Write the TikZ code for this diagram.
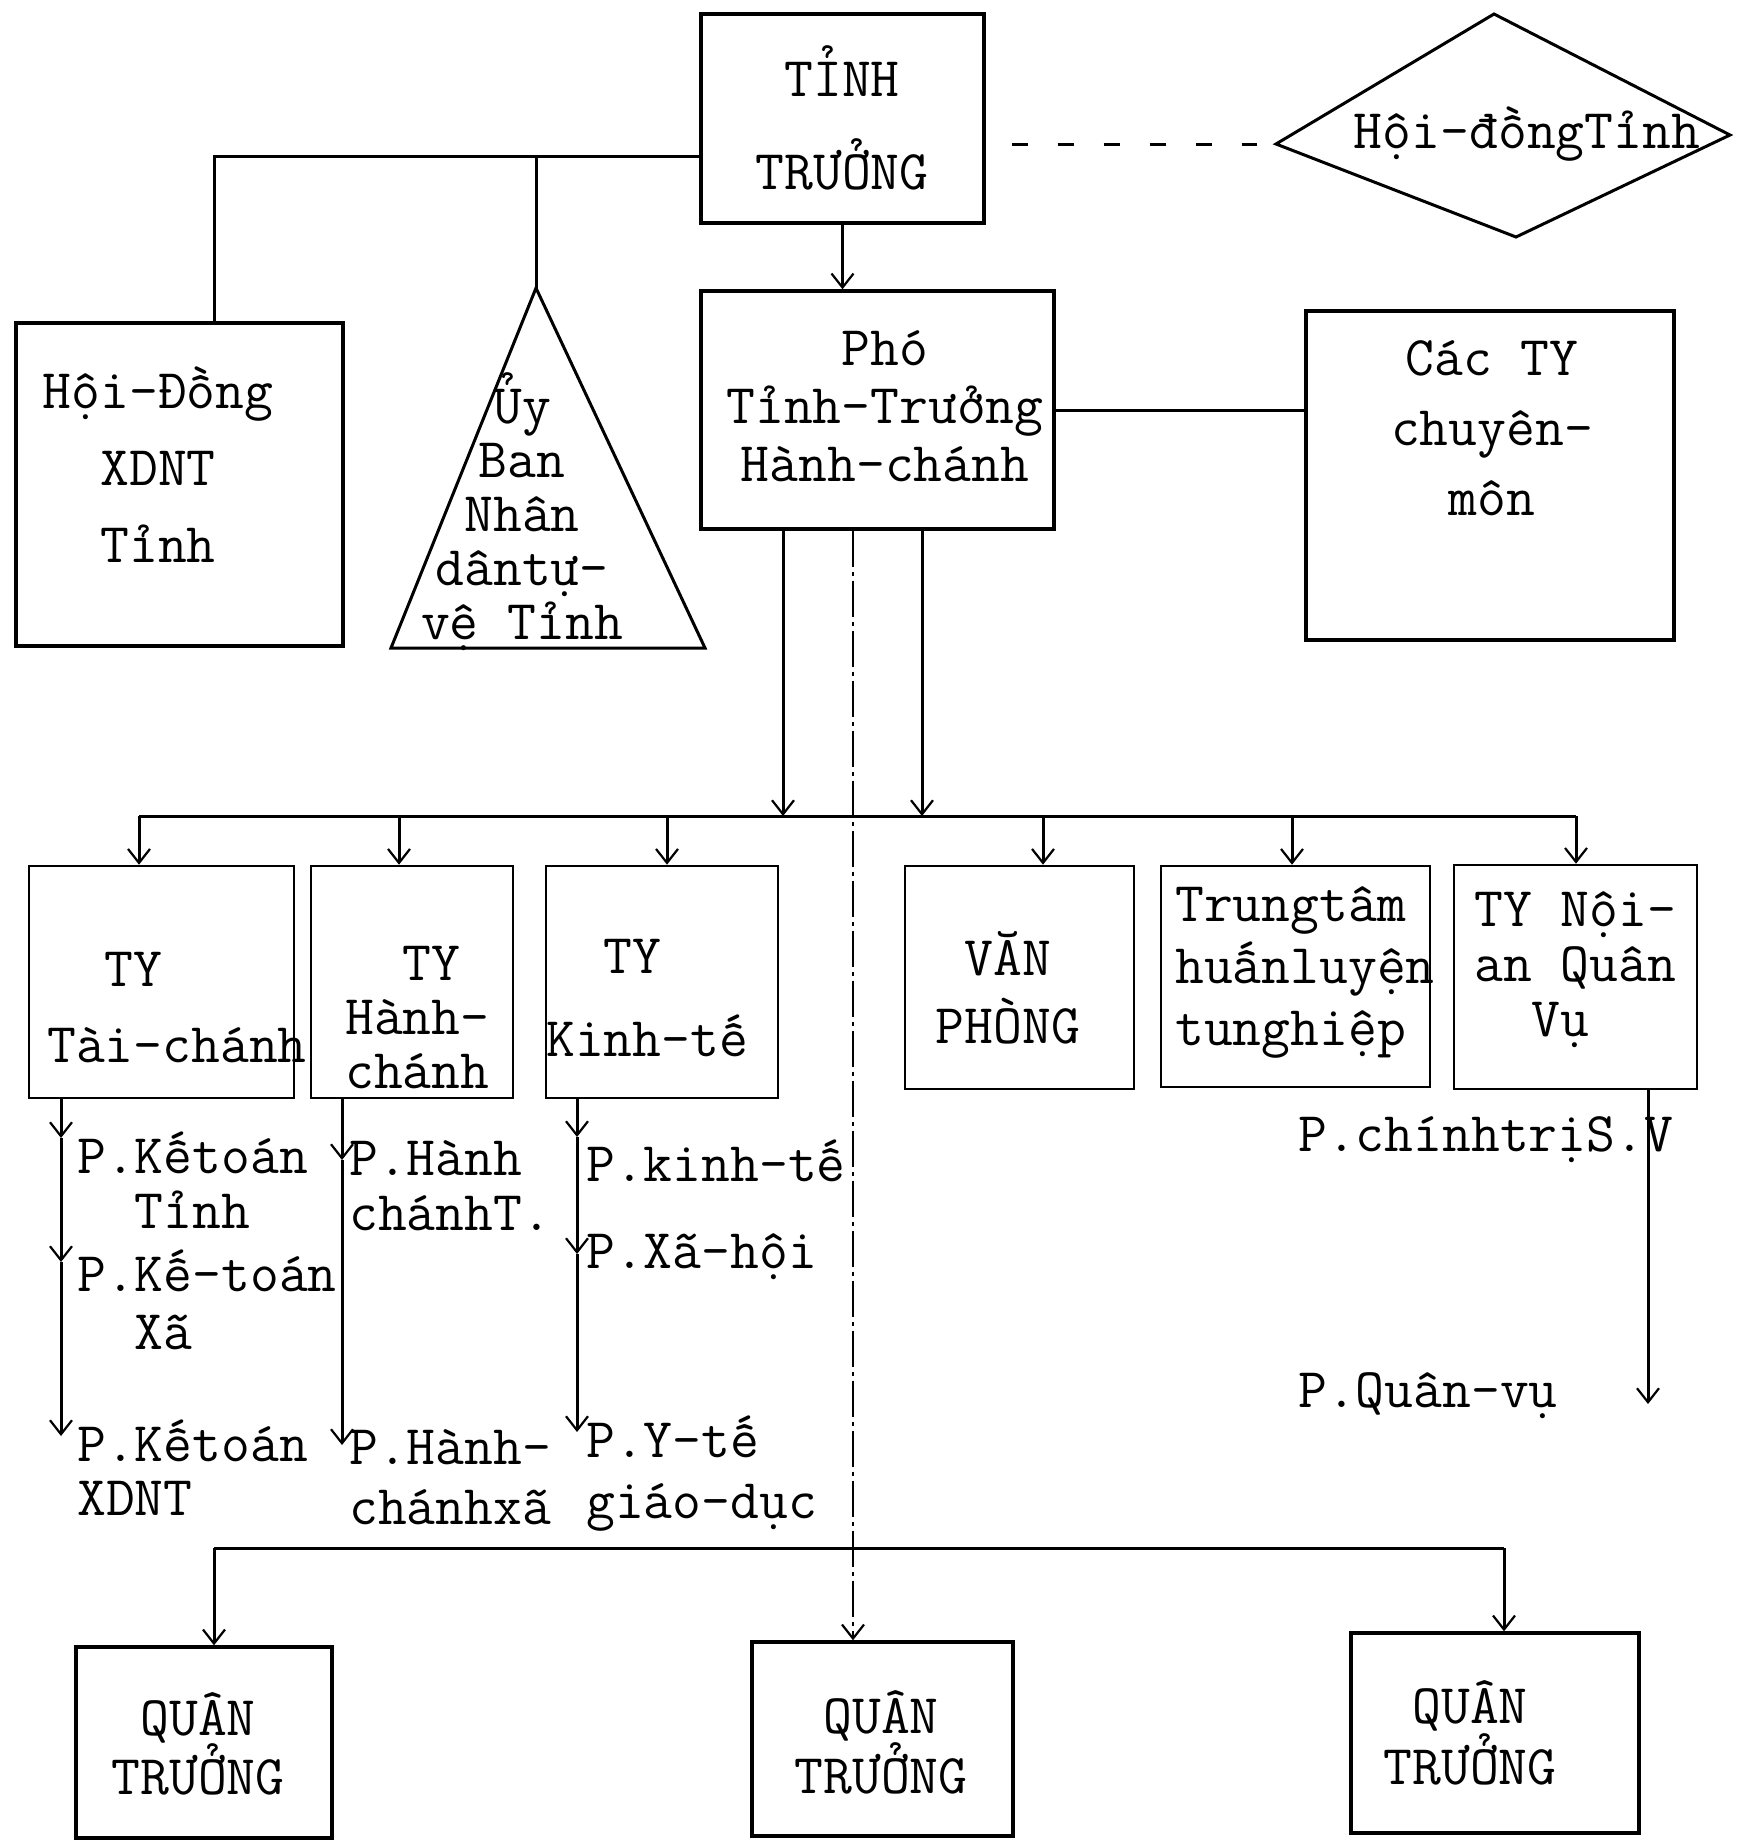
\documentclass[tikz,border=0pt]{standalone}
\usepackage{fontspec}
\setmonofont{Latin Modern Mono}
\usetikzlibrary{arrows.meta,calc}
\newcommand\tw[1]{\ttfamily\fontsize{56}{#1}\selectfont}
\begin{document}
\begin{tikzpicture}[x=1pt,y=-1pt,
 box/.style={draw,line width=3.4pt,inner sep=0pt},
 tbox/.style={draw,line width=2.6pt,inner sep=0pt},
 lbl/.style={inner sep=0pt,align=center},
 lbll/.style={inner sep=0pt,align=left},
 conn/.style={line width=3pt},
 arr/.style={conn,-{Straight Barb[length=14pt,width=22pt,line width=2.2pt]}},
 dashc/.style={line width=3pt,dash pattern=on 16pt off 30pt},
 dotc/.style={line width=2.4pt,dash pattern=on 36pt off 5pt on 4pt off 5pt}]
\fill[white] (0,0) rectangle (1748,1842);
\path[use as bounding box] (0,0) rectangle (1748,1842);

% top level
\node[box,minimum width=283pt,minimum height=209pt] (tinh) at (842.5,118.5) {};
\node[lbl,font=\tw{93}] (tinhT) at (842,118) {TỈNH\\TRƯỞNG};

\coordinate (dT) at (1494,14); \coordinate (dR) at (1730,135);
\coordinate (dB) at (1516,237); \coordinate (dL) at (1276,144);
\draw[conn] (dT) -- (dR) -- (dB) -- (dL) -- cycle;
\node[lbl,font=\tw{60}] (hdT) at (1527,134) {Hội-đồngTỉnh};
\draw[dashc,shorten <=26pt,shorten >=19pt] (tinh.east |- dL) -- (dL);

\node[box,minimum width=327pt,minimum height=323pt] (hdx) at (179.5,484.5) {};
\node[lbl,font=\tw{77}] (hdxT) at (158,465) {Hội-Đồng\\XDNT\\Tỉnh};

\coordinate (uA) at (536,288); \coordinate (uL) at (391,648); \coordinate (uR) at (705,648);
\draw[conn] (uA) -- (uR) -- (uL) -- cycle;
\node[lbl,font=\tw{54}] (ubT) at (522,512) {Ủy\\Ban\\Nhân\\dântự-\\vệ Tỉnh};

\node[box,minimum width=353pt,minimum height=238pt] (pho) at (877.5,410) {};
\node[lbl,font=\tw{58}] (phoT) at (885,406) {Phó\\Tỉnh-Trưởng\\Hành-chánh};

\node[box,minimum width=368pt,minimum height=329pt] (cac) at (1490,475.5) {};
\node[lbl,font=\tw{70}] (cacT) at (1492,428) {Các TY\\chuyên-\\môn};

\coordinate (j1) at (214,156); \coordinate (j2) at (536,156);
\draw[conn] (tinh.west |- j1) -- (j1) -- (j1 |- hdx.north);
\draw[conn] (j2) -- (uA);
\draw[arr] (tinh.south) -- (tinh.south |- pho.north);
\draw[conn] (pho.east) -- (pho.east -| cac.west);

% middle row boxes
\node[tbox,minimum width=265pt,minimum height=232pt] (tc) at (161.5,982) {};
\node[lbll,font=\tw{76},anchor=west] (tcT) at (47,1007) {\phantom{Tà}TY\\Tài-chánh};
\node[tbox,minimum width=202pt,minimum height=232pt] (hc) at (412,982) {};
\node[lbll,font=\tw{54},anchor=west] (hcT) at (345,1017) {\phantom{Hà}TY\\Hành-\\chánh};
\node[tbox,minimum width=232pt,minimum height=232pt] (kt) at (662,982) {};
\node[lbll,font=\tw{83},anchor=west] (ktT) at (546,998) {\phantom{Ki}TY\\Kinh-tế};
\node[tbox,minimum width=229pt,minimum height=223pt] (vp) at (1019.5,977.5) {};
\node[lbl,font=\tw{68}] (vpT) at (1008,988) {VĂN\\PHÒNG};
\node[tbox,minimum width=269pt,minimum height=221pt] (tt) at (1295.5,976.5) {};
\node[lbll,font=\tw{62},anchor=west] (ttT) at (1175,972) {Trungtâm\\huấnluyện\\tunghiệp};
\node[tbox,minimum width=243pt,minimum height=224pt] (na) at (1575.5,977) {};
\node[lbll,font=\tw{55},anchor=west] (naT) at (1474,970) {TY Nội-\\an Quân\\\phantom{an}Vụ};

% bus from Pho
\coordinate (bL) at (139,816); \coordinate (bR) at (1576,816);
\draw[conn] (bL) -- (bR);
\coordinate (p1) at (783,816); \coordinate (p3) at (922,816);
\draw[arr] (pho.south -| p1) -- (p1);
\draw[arr] (pho.south -| p3) -- (p3);
\foreach \n/\x in {tc/139,hc/399,kt/667,vp/1043,tt/1292,na/1576}
  \draw[arr] (\x,816) -- (\n.north -| \x,0);

% sub-lists Tai-chanh
\node[lbll,font=\tw{55},anchor=west] (k1) at (77,1180) {P.Kếtoán\\\phantom{P.}Tỉnh};
\node[lbll,font=\tw{58},anchor=west] (k2) at (77,1300) {P.Kế-toán\\\phantom{P.}Xã};
\node[lbll,font=\tw{54},anchor=west] (k3) at (77,1468) {P.Kếtoán\\XDNT};
\coordinate (a1) at (61,1138); \coordinate (a2) at (61,1262); \coordinate (a3) at (61,1436);
\draw[arr] (tc.south -| a1) -- (a1);
\draw[arr] (a1) -- (a2);
\draw[arr] (a2) -- (a3);

% Hanh-chanh
\node[lbll,font=\tw{55},anchor=west] (h1) at (349,1186) {P.Hành\\chánhT.};
\node[lbll,font=\tw{60},anchor=west] (h2) at (349,1477) {P.Hành-\\chánhxã};
\coordinate (c1) at (342,1160); \coordinate (c2) at (342,1445);
\draw[arr] (hc.south -| c1) -- (c1);
\draw[arr] (c1) -- (c2);

% Kinh-te
\node[lbll,font=\tw{60},anchor=west] (e1) at (586,1161) {P.kinh-tế};
\node[lbll,font=\tw{60},anchor=west] (e2) at (586,1257) {P.Xã-hội};
\node[lbll,font=\tw{61},anchor=west] (e3) at (586,1474) {P.Y-tế\\giáo-dục};
\coordinate (d1) at (577,1137); \coordinate (d2) at (577,1254); \coordinate (d3) at (577,1432);
\draw[arr] (kt.south -| d1) -- (d1);
\draw[arr] (d1) -- (d2);
\draw[arr] (d2) -- (d3);

% Noi-an
\node[lbll,font=\tw{60},anchor=west] (n1) at (1298,1140) {P.chínhtrịS.V};
\node[lbll,font=\tw{60},anchor=west] (n2) at (1298,1396) {P.Quân-vụ};
\coordinate (f1) at (1648,1404);
\draw[arr] (na.south -| f1) -- (f1);

% bottom
\node[box,minimum width=256pt,minimum height=191pt] (q1) at (204,1742.5) {};
\node[lbl,font=\tw{59}] (q1T) at (198,1744) {QUÂN\\TRƯỞNG};
\node[box,minimum width=261pt,minimum height=194pt] (q2) at (882.5,1739) {};
\node[lbl,font=\tw{55}] (q2T) at (881,1742) {QUÂN\\TRƯỞNG};
\node[box,minimum width=288pt,minimum height=200pt] (q3) at (1495,1733) {};
\node[lbl,font=\tw{61}] (q3T) at (1470,1733) {QUÂN\\TRƯỞNG};

\coordinate (mx) at (853,0);
\draw[dotc,-{Straight Barb[length=14pt,width=22pt,line width=2.2pt]}] (pho.south -| mx) -- (q2.north -| mx);
\coordinate (cL) at (214,1548); \coordinate (cR) at (1504,1548);
\draw[conn] (cL) -- (cR);
\draw[arr] (cL) -- (cL |- q1.north);
\draw[arr] (cR) -- (cR |- q3.north);
\end{tikzpicture}
\end{document}
